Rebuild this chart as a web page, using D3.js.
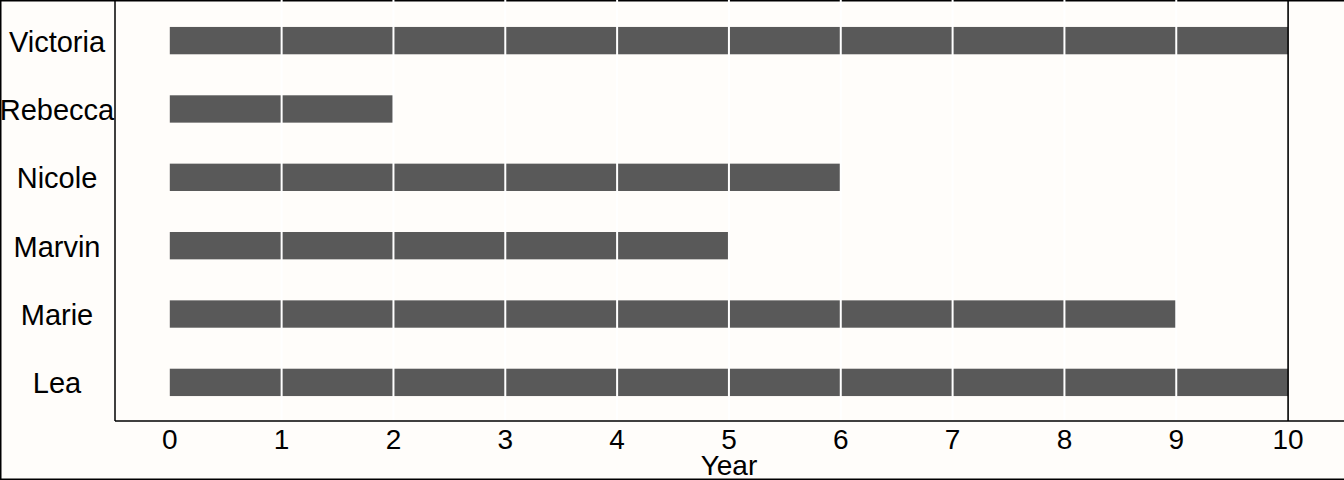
<!DOCTYPE html>
<html lang="en">
<head>
<meta charset="utf-8">
<title>Years per person</title>
<script src="https://cdn.jsdelivr.net/npm/d3@7"></script>
<style>
    body { margin: 0; background: #fffdfa; }
    svg { display: block; }
    text { font-family: "Liberation Sans", Arial, sans-serif; fill: #000; }
</style>
</head>
<body>
<svg id="chart" width="1344" height="480"></svg>
<script>
    // names from bottom to top, and years for each
    const names = ["Lea", "Marie", "Marvin", "Nicole", "Rebecca", "Victoria"];
    const years = [10, 9, 5, 6, 2, 10];
    const xTicks = [0, 1, 2, 3, 4, 5, 6, 7, 8, 9, 10];
    const gridYears = [1, 2, 3, 4, 5, 6, 7, 8, 9];
    const markYear = 10;

    const svg = d3.select("#chart");
    const W = +svg.attr("width"), H = +svg.attr("height");
    const panel = {left: 115, right: W, top: 0, bottom: 421};

    svg.append("rect")
        .attr("width", W).attr("height", H)
        .attr("fill", "#fffdfa");

    const x = d3.scaleLinear()
        .domain([-0.49, 10.5])
        .range([panel.left, panel.right]);

    const y = d3.scalePoint()
        .domain(names)
        .range([panel.bottom, panel.top + 2])
        .padding(0.565);

    const barH = y.step() * 0.4;

    // outer frame (top, left, bottom)
    svg.append("path")
        .attr("d", "M" + W + ",0.75H0.75V" + (H - 0.75) + "H" + W)
        .attr("fill", "none")
        .attr("stroke", "#000")
        .attr("stroke-width", 1.5);

    // bars
    svg.append("g")
        .selectAll("rect")
        .data(names.map((n, i) => ({name: n, value: years[i]})))
        .enter().append("rect")
        .attr("x", x(0))
        .attr("y", d => y(d.name) - barH / 2)
        .attr("width", d => x(d.value) - x(0))
        .attr("height", barH)
        .attr("fill", "#595959");

    // white year lines on top of bars
    svg.append("g")
        .selectAll("line")
        .data(gridYears)
        .enter().append("line")
        .attr("x1", d => x(d)).attr("x2", d => x(d))
        .attr("y1", panel.top).attr("y2", panel.bottom)
        .attr("stroke", "#fff")
        .attr("stroke-width", 2);

    svg.append("line")
        .attr("x1", x(markYear)).attr("x2", x(markYear))
        .attr("y1", panel.top).attr("y2", panel.bottom)
        .attr("stroke", "#000")
        .attr("stroke-width", 1.6);

    // axis lines
    svg.append("line")
        .attr("x1", panel.left).attr("x2", panel.left)
        .attr("y1", panel.top).attr("y2", panel.bottom)
        .attr("stroke", "#000").attr("stroke-width", 1.5);
    svg.append("line")
        .attr("x1", panel.left).attr("x2", panel.right)
        .attr("y1", panel.bottom).attr("y2", panel.bottom)
        .attr("stroke", "#000").attr("stroke-width", 1.5);

    // y labels
    svg.append("g")
        .selectAll("text")
        .data(names)
        .enter().append("text")
        .attr("x", 57)
        .attr("y", d => y(d))
        .attr("dy", "0.38em")
        .attr("text-anchor", "middle")
        .style("font-size", "29px")
        .text(d => d);

    // x tick labels
    svg.append("g")
        .selectAll("text")
        .data(xTicks)
        .enter().append("text")
        .attr("x", d => x(d))
        .attr("y", 449)
        .attr("text-anchor", "middle")
        .style("font-size", "28px")
        .text(d => d);

    svg.append("text")
        .attr("x", x(5))
        .attr("y", 475)
        .attr("text-anchor", "middle")
        .style("font-size", "28px")
        .text("Year");
</script>
</body>
</html>
